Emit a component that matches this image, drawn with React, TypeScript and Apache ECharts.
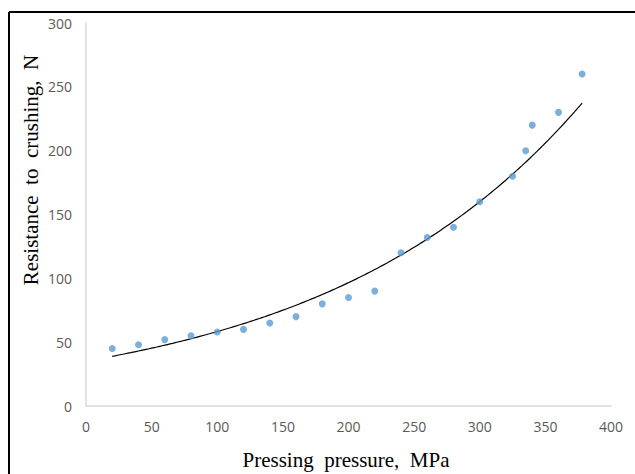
import React, { useEffect, useRef } from "react";
import * as echarts from "echarts";

const pressure = [20, 40, 60, 80, 100, 120, 140, 160, 180, 200, 220, 240, 260, 280, 300, 325, 335, 340, 360, 378];
const resistance = [45, 48, 52, 55, 58, 60, 65, 70, 80, 85, 90, 120, 132, 140, 160, 180, 200, 220, 230, 260];
const xTicks = [0, 50, 100, 150, 200, 250, 300, 350, 400];
const yTicks = [0, 50, 100, 150, 200, 250, 300];
const xTitle = "Pressing  pressure,  MPa";
const yTitle = "Resistance  to  crushing,  N";

// Exponential trendline (least squares on ln y), as a spreadsheet would fit it
function expFit(xs: number[], ys: number[]) {
  const n = xs.length;
  const ly = ys.map((v) => Math.log(v));
  const mx = xs.reduce((a, b) => a + b, 0) / n;
  const my = ly.reduce((a, b) => a + b, 0) / n;
  let sxy = 0, sxx = 0;
  for (let i = 0; i < n; i++) {
    sxy += (xs[i] - mx) * (ly[i] - my);
    sxx += (xs[i] - mx) * (xs[i] - mx);
  }
  const b = sxy / sxx;
  const a = Math.exp(my - b * mx);
  return { a, b };
}

export default function App() {
  const ref = useRef<HTMLDivElement>(null);
  useEffect(() => {
    if (!ref.current) return;
    const chart = echarts.init(ref.current, undefined, { renderer: "svg" });
    const { a, b } = expFit(pressure, resistance);
    const x0 = pressure[0];
    const x1 = pressure[pressure.length - 1];
    const trend: number[][] = [];
    for (let x = x0; x <= x1; x += 2) trend.push([x, a * Math.exp(b * x)]);
    if (trend[trend.length - 1][0] !== x1) trend.push([x1, a * Math.exp(b * x1)]);

    const labelStyle = { color: "#595959", fontFamily: "Open Sans", fontSize: 14 };
    chart.setOption({
      animation: false,
      backgroundColor: "#ffffff",
      grid: { left: 86, right: 24, top: 23, bottom: 68 },
      xAxis: {
        type: "value",
        min: xTicks[0],
        max: xTicks[xTicks.length - 1],
        interval: 50,
        axisLine: { show: true, lineStyle: { color: "#d9d9d9", width: 1.5 } },
        axisTick: { show: false },
        splitLine: { show: false },
        axisLabel: { ...labelStyle, margin: 13 },
      },
      yAxis: {
        type: "value",
        min: yTicks[0],
        max: yTicks[yTicks.length - 1],
        interval: 50,
        axisLine: { show: true, lineStyle: { color: "#d9d9d9", width: 1.5 } },
        axisTick: { show: false },
        splitLine: { show: false },
        axisLabel: { ...labelStyle, margin: 14 },
      },
      series: [
        {
          type: "scatter",
          data: pressure.map((x, i) => [x, resistance[i]]),
          symbol: "circle",
          symbolSize: 7,
          itemStyle: { color: "#5b9bd5" },
          z: 3,
        },
        {
          type: "line",
          data: trend,
          showSymbol: false,
          smooth: false,
          lineStyle: { color: "#000000", width: 1.2 },
          z: 2,
        },
      ],
      graphic: [
        { type: "line", shape: { x1: 9, y1: 12, x2: 635, y2: 12 }, style: { stroke: "#000", lineWidth: 2 } },
        { type: "line", shape: { x1: 9, y1: 12, x2: 9, y2: 474 }, style: { stroke: "#000", lineWidth: 2 } },
        {
          type: "text",
          x: 346,
          y: 460,
          style: {
            text: xTitle,
            fill: "#000",
            font: "21px 'Liberation Serif'",
            align: "center",
            verticalAlign: "middle",
          },
        },
        {
          type: "text",
          x: 31,
          y: 170,
          rotation: Math.PI / 2,
          style: {
            text: yTitle,
            fill: "#000",
            font: "21px 'Liberation Serif'",
            align: "center",
            verticalAlign: "middle",
          },
        },
      ],
    });
    return () => chart.dispose();
  }, []);
  return <div ref={ref} style={{ width: 635, height: 474, position: "absolute", left: 0, top: 0 }} />;
}
